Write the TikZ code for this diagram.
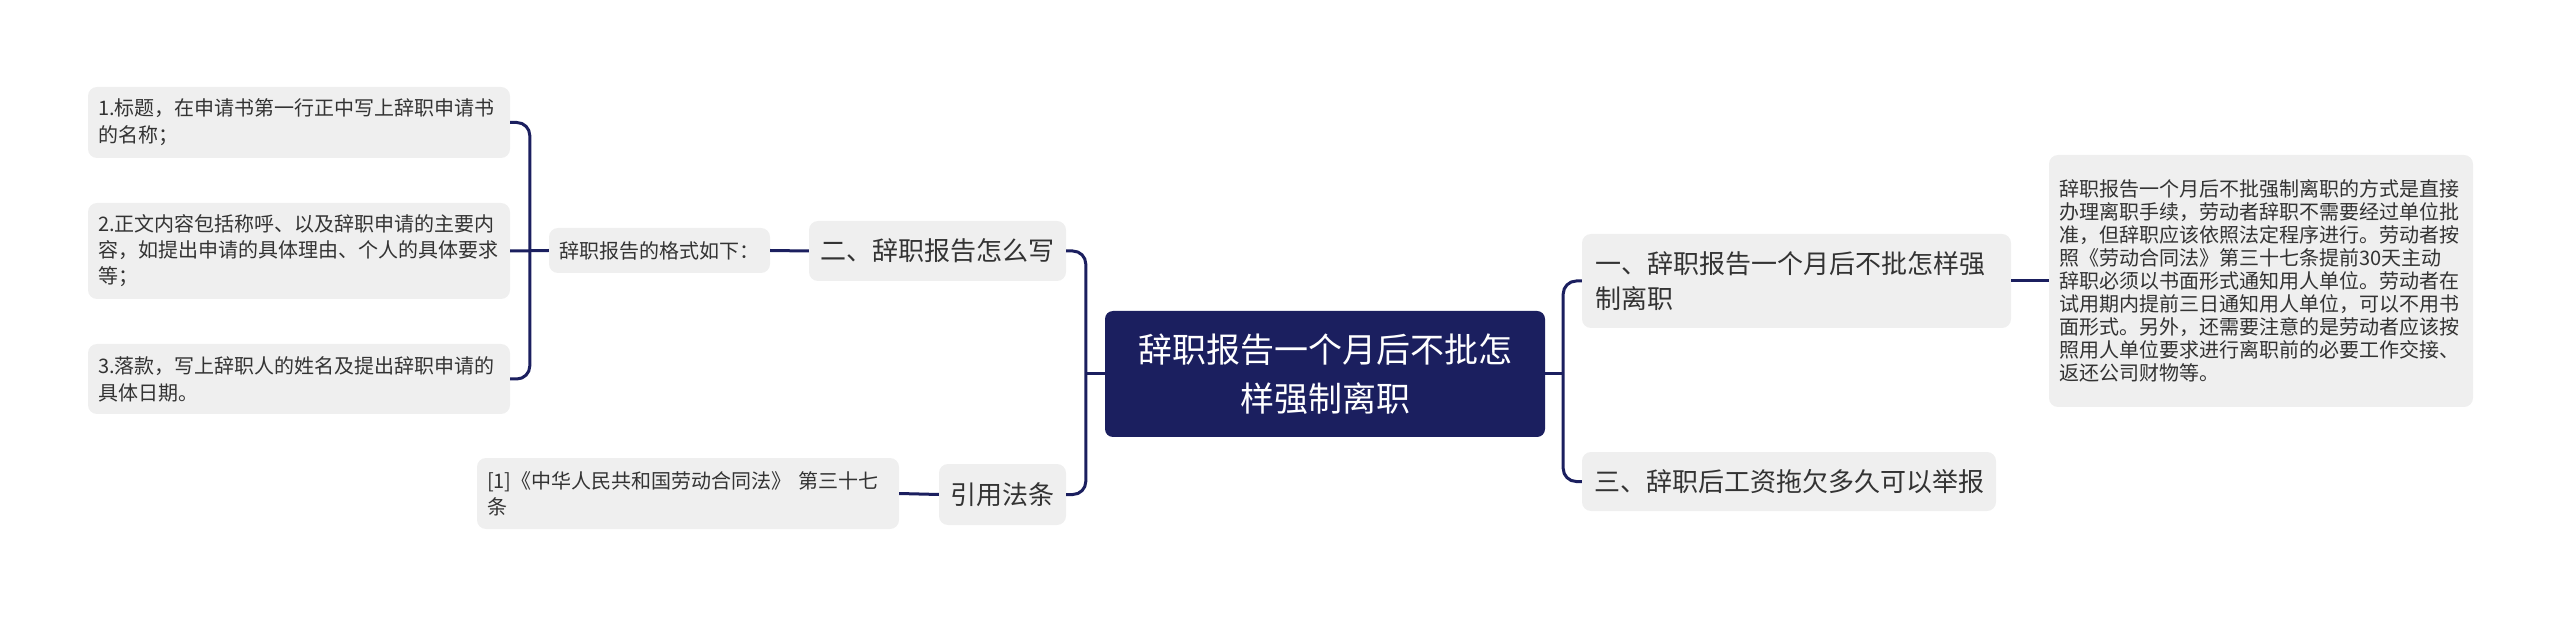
\documentclass[tikz,border=0pt]{standalone}
\usepackage{fontspec}
\setmainfont{Noto Sans CJK SC}
\definecolor{navy}{HTML}{1B1F5F}
\definecolor{boxgray}{HTML}{EFEFEF}
\definecolor{txt}{HTML}{333333}
\begin{document}
\begin{tikzpicture}[x=1pt,y=-1pt,
  link/.style={draw=navy,line width=3pt,rounded corners=13pt},
  root node/.style={fill=navy,text=white,rounded corners=8pt,align=center,
    font=\fontsize{34}{49}\selectfont,minimum width=440pt,minimum height=126pt},
  main node/.style={fill=boxgray,text=txt,rounded corners=9pt,align=left,
    inner xsep=13pt,font=\fontsize{26}{35}\selectfont},
  leaf node/.style={fill=boxgray,text=txt,rounded corners=9pt,align=left,
    inner xsep=10pt,font=\fontsize{20}{27}\selectfont}]
  \useasboundingbox (0,0) rectangle (2560,617);

  \node[root node] (main) at (1325,374) {辞职报告一个月后不批怎\\样强制离职};

  \node[main node,minimum width=257pt,minimum height=60pt,inner xsep=0pt] (n2) at (937.5,251) {二、辞职报告怎么写};
  \node[main node,minimum width=127pt,minimum height=61pt,inner xsep=0pt] (cite) at (1002.5,494.5) {引用法条};
  \node[main node,text width=403pt,minimum height=94pt] (n1) at (1796.5,281) {一、辞职报告一个月后不批怎样强\\制离职};
  \node[main node,minimum width=414pt,minimum height=59pt,inner xsep=0pt] (n3) at (1789,481.5) {三、辞职后工资拖欠多久可以举报};

  \node[leaf node,minimum width=221pt,minimum height=45pt,inner xsep=0pt] (fmt) at (659.5,250.5) {辞职报告的格式如下：};
  \node[leaf node,text width=402pt,minimum height=71pt] (b1) at (299,122.5) {1.标题，在申请书第一行正中写上辞职申请书\\的名称；};
  \node[leaf node,text width=402pt,minimum height=96pt,font=\fontsize{20}{26}\selectfont] (b2) at (299,251) {2.正文内容包括称呼、以及辞职申请的主要内\\容，如提出申请的具体理由、个人的具体要求\\等；};
  \node[leaf node,text width=402pt,minimum height=70pt] (b3) at (299,379) {3.落款，写上辞职人的姓名及提出辞职申请的\\具体日期。};
  \node[leaf node,text width=402pt,minimum height=71pt,font=\fontsize{20}{26}\selectfont] (law) at (688,493.5) {[1]《中华人民共和国劳动合同法》 第三十七\\条};
  \node[leaf node,text width=404pt,minimum height=252pt,font=\fontsize{20}{23}\selectfont] (para) at (2261,281) {辞职报告一个月后不批强制离职的方式是直接\\办理离职手续，劳动者辞职不需要经过单位批\\准，但辞职应该依照法定程序进行。劳动者按\\照《劳动合同法》第三十七条提前30天主动\\辞职必须以书面形式通知用人单位。劳动者在\\试用期内提前三日通知用人单位，可以不用书\\面形式。另外，还需要注意的是劳动者应该按\\照用人单位要求进行离职前的必要工作交接、\\返还公司财物等。};

  % junctions of the brackets
  \coordinate (jl) at ([xshift=-19pt]fmt.west);
  \coordinate (jm) at ([xshift=-19pt]main.west);
  \coordinate (jr) at ([xshift=18pt]main.east);

  \draw[link] (b1.east) -| (jl) |- (b3.east);
  \draw[link] (b2.east) -- (fmt.west);
  \draw[link] (fmt.east) -- (n2.west);
  \draw[link] (n2.east) -| (jm) |- (cite.east);
  \draw[link] (jm) -- (main.west);
  \draw[link] (law.east) -- (cite.west);
  \draw[link] (main.east) -- (jr);
  \draw[link] (n1.west) -| (jr) |- (n3.west);
  \draw[link] (n1.east) -- (para.west);
\end{tikzpicture}
\end{document}
